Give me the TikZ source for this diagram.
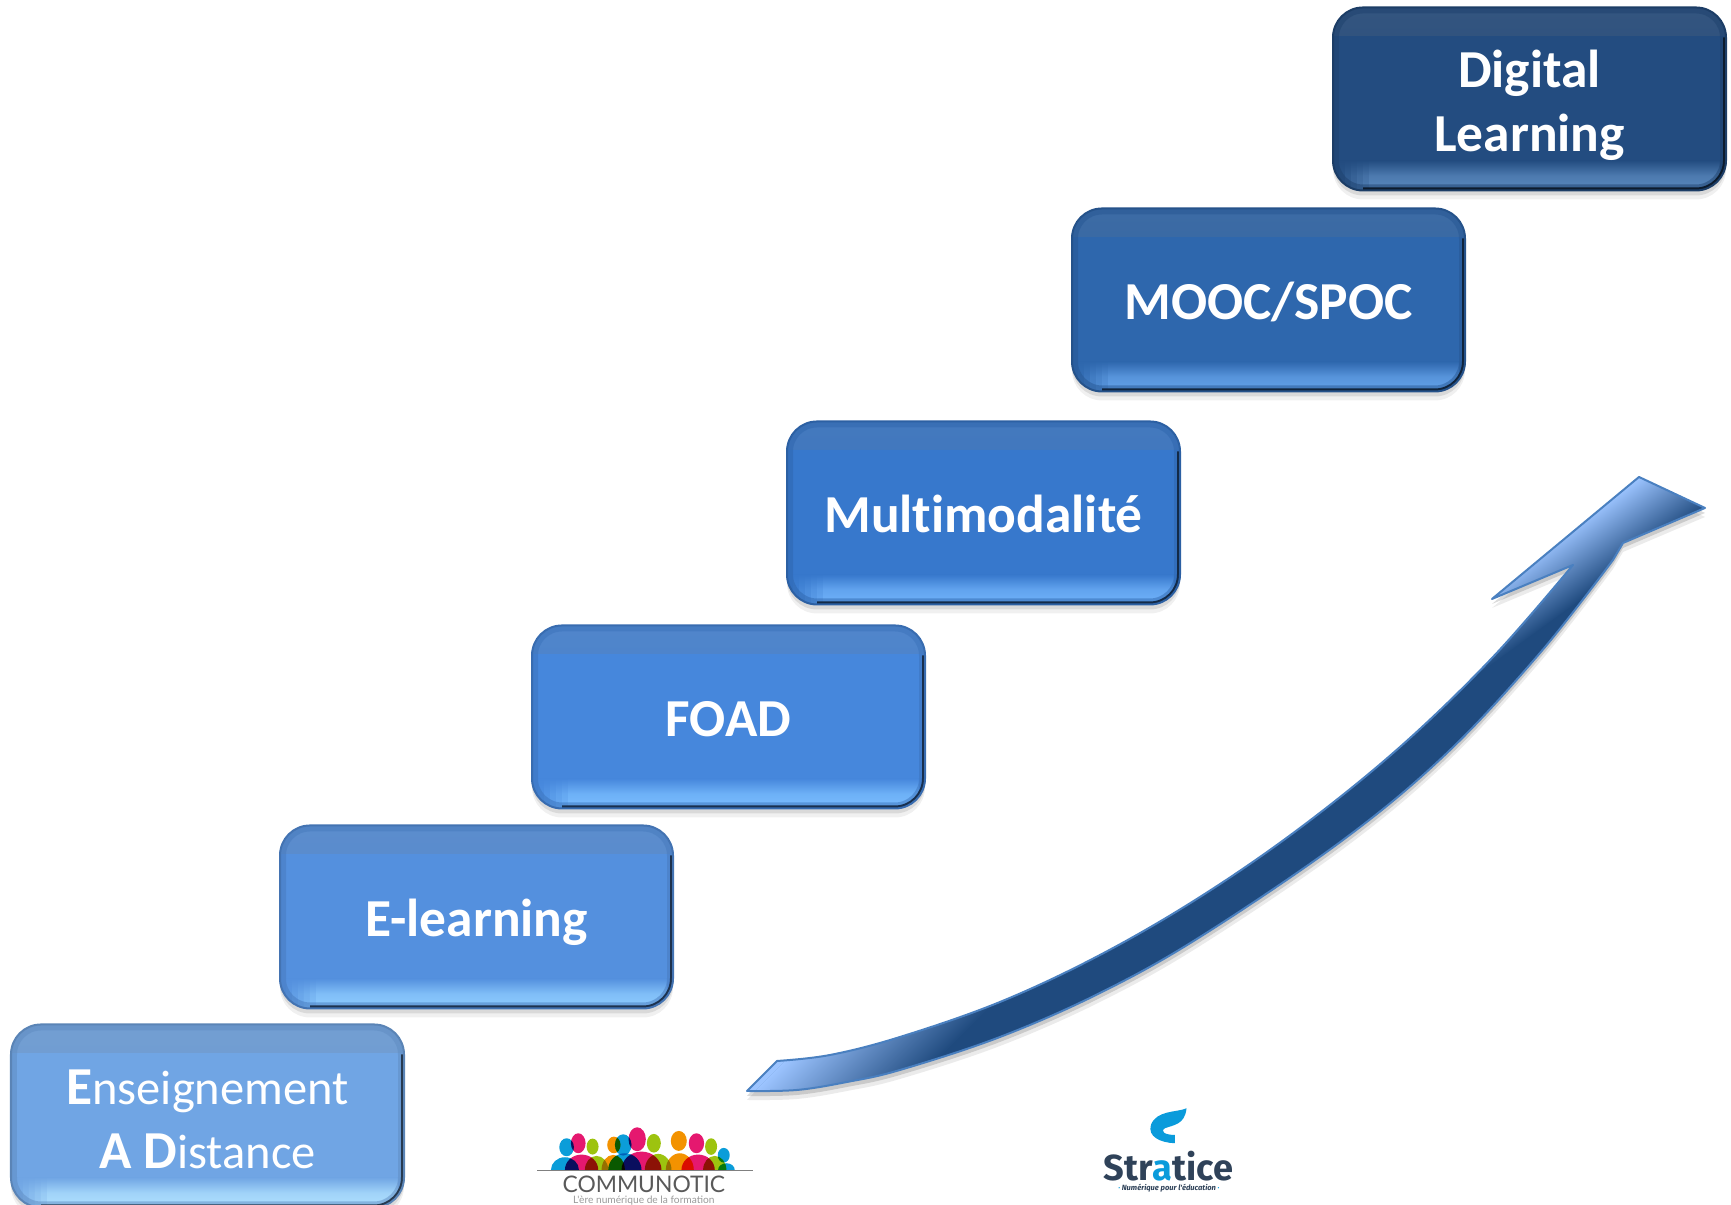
\documentclass[tikz,border=0pt]{standalone}
\usepackage{fontspec}
\setmainfont{Carlito}[Ligatures=NoCommon]
\newfontfamily\latofont{Lato}
\newfontfamily\firafont{Fira Sans}
\usetikzlibrary{positioning, shadows}
\definecolor{stepa}{HTML}{70A5E4}
\definecolor{stepb}{HTML}{5490DE}
\definecolor{stepc}{HTML}{4687DC}
\definecolor{stepd}{HTML}{3778CC}
\definecolor{stepe}{HTML}{2E67AD}
\definecolor{stepf}{HTML}{234C80}
\definecolor{glowa}{HTML}{B0E2FF}
\definecolor{glowb}{HTML}{8ECDFF}
\definecolor{glowc}{HTML}{7ABEFF}
\definecolor{glowd}{HTML}{70B2FA}
\definecolor{glowe}{HTML}{64A2EA}
\definecolor{glowf}{HTML}{5A88BE}
\definecolor{risedrk}{HTML}{1F4A7E}
\definecolor{riselgt}{HTML}{9CC4FF}
\definecolor{riseedge}{HTML}{4A80C0}
\definecolor{cblue}{HTML}{0B9DD9}
\definecolor{cpink}{HTML}{E5186F}
\definecolor{cgreen}{HTML}{9DC30F}
\definecolor{corange}{HTML}{F39200}
\definecolor{sdark}{HTML}{2F4259}
\definecolor{sblue}{HTML}{0A9BDB}
\tikzset{
	stepbox/.style 2 args={rectangle, rounded corners=0.3cm, draw=#1!80!black, line width=0.02cm, fill=#1, text=white,
		inner sep=0, outer sep=0, minimum width=3.93cm, minimum height=1.83cm, align=center,
		font=\fontsize{15.2}{18.2}\selectfont\bfseries,
		drop shadow={shadow xshift=0cm, shadow yshift=-0.09cm, opacity=0.12},
		drop shadow={shadow xshift=0cm, shadow yshift=-0.05cm, opacity=0.2},
		path picture={
			\shade[sharp corners, top color=#1!82!gray, bottom color=#1!92!black] (path picture bounding box.north west) rectangle ([yshift=-0.28cm]path picture bounding box.north east);
			\foreach \k in {1,...,5}
				\shade[sharp corners, top color=#1, bottom color=#2, middle color=#1!25!#2, opacity=\k*0.16] ([xshift=\k*0.06cm, yshift=0.3cm]path picture bounding box.south west) rectangle ([xshift=\k*0.06cm+0.06cm]path picture bounding box.south west);
			\shade[sharp corners, top color=#1, bottom color=#2, middle color=#1!25!#2] ([xshift=0.36cm, yshift=0.3cm]path picture bounding box.south west) rectangle ([xshift=-0.06cm]path picture bounding box.south east);
			\draw[#1!85!black, line width=0.12cm, rounded corners=0.3cm, opacity=0.5] (path picture bounding box.south west) rectangle (path picture bounding box.north east);
			\draw[#1!35!black, line width=0.06cm, rounded corners=0.3cm] ([yshift=-0.3cm]path picture bounding box.north east) -- (path picture bounding box.south east) -- ([xshift=0.3cm]path picture bounding box.south west);
		}},
	oneline/.style={text height=0.5cm, text depth=0.116cm},
	twolines/.style={text height=1.245cm, text depth=0.2cm},
	risepath/.style={line width=0.02cm, riseedge},
}
\newcommand{\lowtxt}[1]{{\mdseries\fontsize{13.8}{18.2}\selectfont #1}}
\newcommand{\riseshape}{(7.47,1.14) -- plot [smooth, tension=0.6] coordinates {(7.77,1.44) (8.30,1.50) (9.00,1.68) (10.00,2.03) (11.00,2.50) (12.00,3.08) (13.00,3.77) (14.00,4.58) (14.93,5.48) (15.73,6.40)}
	-- (14.92,6.06) -- (16.39,7.28) -- (17.05,6.97) -- (16.23,6.62)
	-- plot [smooth, tension=0.6] coordinates {(16.13,6.45) (15.40,5.52) (14.47,4.52) (13.43,3.65) (12.00,2.68) (11.00,2.12) (10.00,1.68) (9.00,1.35) (8.47,1.23) (7.97,1.15) (7.47,1.14)} -- cycle}
\begin{document}
\begin{tikzpicture}
	\useasboundingbox (0,0) rectangle (17.31,12.05);

	\node[stepbox={stepa}{glowa}, twolines] (EAD) at (2.075, 0.89) {\textbf{E}\lowtxt{nseignement}\\\textbf{A D}\lowtxt{istance}};
	\node[stepbox={stepb}{glowb}, oneline, above right=0.16cm and -1.24cm of EAD] (EL) {E-learning};
	\node[stepbox={stepc}{glowc}, oneline, above right=0.17cm and -1.41cm of EL] (FOAD) {FOAD};
	\node[stepbox={stepd}{glowd}, oneline, above right=0.21cm and -1.38cm of FOAD] (MM) {Multimodalité};
	\node[stepbox={stepe}{glowe}, oneline, above right=0.30cm and -1.08cm of MM] (MOOC) {MOOC/SPOC};
	\node[stepbox={stepf}{glowf}, twolines, above right=0.18cm and -1.32cm of MOOC] (DL) {Digital\\Learning};

	% rising arrow
	\fill[black, opacity=0.08, yshift=-0.09cm] \riseshape;
	\fill[black, opacity=0.14, yshift=-0.05cm] \riseshape;
	\begin{scope}
		\clip \riseshape;
		\fill[risedrk] (7,0.5) rectangle (17.31,7.5);
		\begin{scope}[transform canvas={shift={(9.5,1.58)}, rotate=-45}]
			\fill[riselgt] (-3,-3) rectangle (-1.07,3);
			\shade[left color=riselgt, right color=risedrk] (-1.07,-3) rectangle (0,3);
		\end{scope}
		\begin{scope}[transform canvas={shift={(16.30,6.41)}, rotate=-54}]
			\fill[riselgt] (-3,-3) rectangle (-0.65,3);
			\shade[left color=riselgt, right color=risedrk] (-0.65,-3) rectangle (0,3);
		\end{scope}
	\end{scope}
	\draw[risepath, line join=round] \riseshape;

	% communotic logo
	\begin{scope}[shift={(5.2,1.05)}, x=0.0333mm, y=-0.0333mm]
		\begin{scope}[blend group=multiply]
			\clip (40,0) rectangle (720,210);
			\fill[cblue] (135,210) ellipse [x radius=42, y radius=38];
			\fill[cpink] (185,210) ellipse [x radius=50, y radius=46];
			\fill[cgreen] (230,210) ellipse [x radius=35, y radius=42];
			\fill[corange] (280,210) ellipse [x radius=35, y radius=45];
			\fill[cblue] (315,210) ellipse [x radius=50, y radius=50];
			\fill[cpink] (365,210) ellipse [x radius=60, y radius=55];
			\fill[cgreen] (415,210) ellipse [x radius=40, y radius=48];
			\fill[corange] (480,210) ellipse [x radius=42, y radius=50];
			\fill[cpink] (535,210) ellipse [x radius=50, y radius=46];
			\fill[cgreen] (585,210) ellipse [x radius=35, y radius=42];
			\fill[cblue] (620,210) ellipse [x radius=25, y radius=20];
			\fill[cblue] (140,142) ellipse [x radius=22, y radius=27];
			\fill[cpink] (175,130) ellipse [x radius=22, y radius=30];
			\fill[cgreen] (218,140) ellipse [x radius=18, y radius=24];
			\fill[corange] (282,135) ellipse [x radius=20, y radius=25];
			\fill[cblue] (310,135) ellipse [x radius=25, y radius=32];
			\fill[cpink] (352,118) ellipse [x radius=26, y radius=36];
			\fill[cgreen] (402,130) ellipse [x radius=21, y radius=28];
			\fill[corange] (477,123) ellipse [x radius=24, y radius=30];
			\fill[cpink] (530,130) ellipse [x radius=23, y radius=30];
			\fill[cgreen] (574,140) ellipse [x radius=18, y radius=25];
			\fill[cblue] (612,166) ellipse [x radius=18, y radius=22];
		\end{scope}
		\draw[gray, line width=0.012cm] (52,211) -- (700,211);
		\node[gray!70!black, font=\latofont\fontsize{6.5}{7}\selectfont, inner sep=0] (CN) at (372,254) {COMMUNOTIC};
		\node[gray!80, font=\latofont\fontsize{2.9}{3}\selectfont, inner sep=0] (CT) at (372,302) {L'ère numérique de la formation};
	\end{scope}

	% stratice logo
	\begin{scope}[shift={(10.8,1.15)}, x=0.0333mm, y=-0.0333mm]
		\fill[sblue] (320,55) .. controls (290,68) and (230,60) .. (213,105) .. controls (203,140) and (240,158) .. (285,160)
			-- (285,135) .. controls (255,135) and (240,125) .. (255,115) .. controls (280,105) and (315,105) .. (320,55) -- cycle;
		\node[sdark, font=\firafont\fontsize{10.3}{11}\selectfont\bfseries, inner sep=0] (SN) at (265,230) {Str{\color{sblue}a}tice};
		\node[sdark, font=\firafont\fontsize{2.15}{2.5}\selectfont\bfseries\itshape, inner sep=0] (ST) at (267,296) {{\color{sblue}·} Numérique pour l'éducation {\color{sblue}·}};
	\end{scope}
\end{tikzpicture}
\end{document}
